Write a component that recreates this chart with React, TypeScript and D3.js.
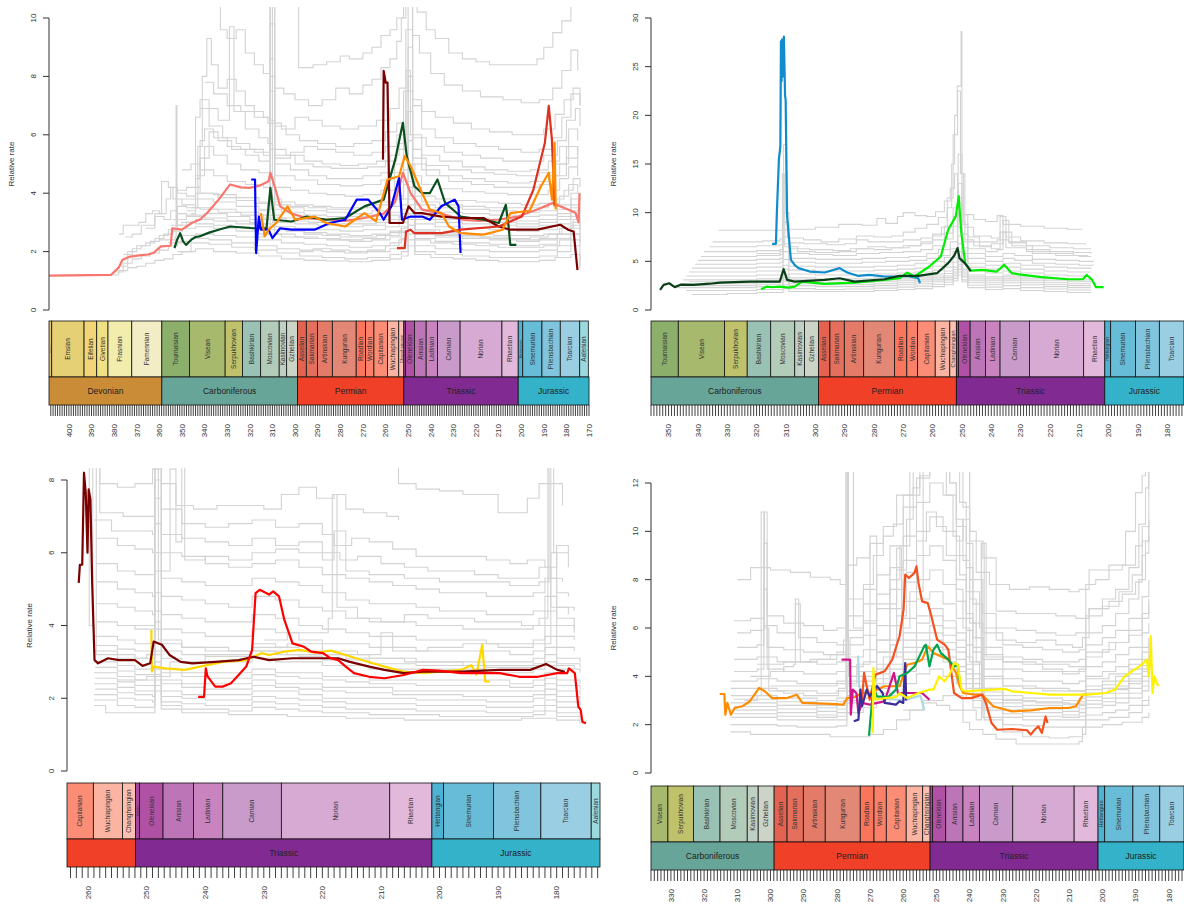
import * as d3 from 'd3';

// ---- geologic timescale (ages in Ma) ----
const STAGE_NAMES = ['Pragian', 'Emsian', 'Eifelian', 'Givetian', 'Frasnian', 'Famennian', 'Tournaisian', 'Visean', 'Serpukhovian', 'Bashkirian', 'Moscovian', 'Kasimovian', 'Gzhelian', 'Asselian', 'Sakmarian', 'Artinskian', 'Kungurian', 'Roadian', 'Wordian', 'Capitanian', 'Wuchiapingian', 'Changhsingian', 'Induan', 'Olenekian', 'Anisian', 'Ladinian', 'Carnian', 'Norian', 'Rhaetian', 'Hettangian', 'Sinemurian', 'Pliensbachian', 'Toarcian', 'Aalenian'];
const STAGE_BASES = [410.8, 407.6, 393.3, 387.7, 382.7, 372.2, 358.9, 346.7, 330.9, 323.2, 315.2, 307.0, 303.7, 298.9, 295.0, 290.1, 283.5, 272.95, 268.8, 265.1, 259.1, 254.14, 251.902, 251.2, 247.2, 242.0, 237.0, 227.0, 208.5, 201.3, 199.3, 190.8, 182.7, 174.1];
const STAGE_TOPS = [...STAGE_BASES.slice(1), 170.3];
const STAGE_COLORS = ['#E5C468', '#E5D075', '#F1D576', '#F1E185', '#F2EDAD', '#F2EDC5', '#8CB06C', '#A6B96C', '#BFC26B', '#99C2B5', '#B3CBB9', '#BFD0C5', '#CCD4C7', '#E36350', '#E36F5C', '#E37B68', '#E38776', '#FB745C', '#FB8069', '#FB8D76', '#FCB4A2', '#FCC0B2', '#A4469F', '#B051A5', '#BC75B7', '#C983BF', '#C99BCB', '#D6AAD3', '#E3B9DB', '#4EB3D3', '#67BCD8', '#80C5DD', '#99CEE3', '#9AD9DD'];
const PERIOD_NAMES = ['Devonian', 'Carboniferous', 'Permian', 'Triassic', 'Jurassic'];
const PERIOD_BASES = [419.2, 358.9, 298.9, 251.902, 201.3];
const PERIOD_TOPS = [358.9, 298.9, 251.902, 201.3, 145.0];
const PERIOD_COLORS = ['#CB8C37', '#67A599', '#F04028', '#812B92', '#34B2C9'];

// ---- panel A (Devonian - Jurassic) : [age, rate, age, rate, ...] ----
const A_GREY = [
  [381, 1.2, 378, 1.35, 374, 1.45, 370, 1.5, 366, 1.6, 362, 1.7, 358, 1.75, 354, 1.9, 350, 2.0, 344, 2.1, 336, 2.0, 326, 1.95, 316, 1.85, 306, 1.75, 296, 1.7, 286, 1.68, 276, 1.65, 266, 1.7, 258, 1.75, 253, 1.85, 250, 2.2, 247, 1.9, 240, 1.8, 230, 1.75, 220, 1.7, 210, 1.65, 200, 1.65, 192, 1.7, 185, 1.8, 178, 1.9, 174, 1.4],
  [379, 1.3, 376, 1.6, 372, 1.75, 368, 1.85, 364, 1.95, 360, 2.05, 356, 2.2, 352, 2.35, 346, 2.45, 338, 2.4, 328, 2.3, 318, 2.2, 308, 2.1, 298, 2.05, 288, 2.0, 278, 1.95, 268, 2.0, 258, 2.1, 253, 2.2, 250, 2.6, 247, 2.2, 238, 2.1, 226, 2.05, 214, 2.0, 202, 2.0, 192, 2.05, 184, 2.2, 178, 2.4, 174, 2.2],
  [377, 1.5, 374, 2.0, 370, 2.2, 366, 2.3, 362, 2.45, 358, 2.6, 354, 2.7, 350, 2.8, 344, 2.85, 336, 2.8, 326, 2.7, 316, 2.6, 306, 2.5, 296, 2.45, 286, 2.4, 276, 2.35, 266, 2.4, 258, 2.5, 253, 2.65, 250, 3.1, 247, 2.6, 238, 2.5, 226, 2.45, 214, 2.4, 202, 2.35, 192, 2.4, 184, 2.6, 178, 2.8, 174, 2.6],
  [375, 2.5, 372, 2.6, 368, 2.9, 365, 2.9, 362, 3.2, 358, 3.1, 355, 3.4, 352, 3.3, 348, 3.2, 340, 3.15, 330, 3.05, 320, 2.95, 310, 2.85, 300, 2.8, 290, 2.75, 280, 2.7, 270, 2.75, 260, 2.85, 254, 3.0, 250, 3.6, 247, 2.95, 238, 2.85, 226, 2.8, 214, 2.75, 202, 2.7, 192, 2.75, 184, 2.95, 178, 3.2, 174, 3.0],
  [366, 2.8, 362, 3.3, 359, 4.4, 356, 4.2, 354, 3.8, 350, 3.6, 344, 3.5, 336, 3.45, 326, 3.35, 316, 3.25, 306, 3.15, 296, 3.1, 286, 3.05, 276, 3.05, 266, 3.1, 258, 3.25, 253, 3.45, 250, 4.2, 247, 3.3, 238, 3.2, 226, 3.15, 214, 3.1, 202, 3.05, 192, 3.1, 184, 3.3, 178, 3.6, 174, 3.4],
  [360, 2.4, 353, 2.5, 352.6, 7.0, 352.2, 2.9, 348, 3.0, 344, 3.1, 336, 3.05, 326, 2.95, 316, 2.85, 306, 2.75, 296, 2.65, 286, 2.6, 276, 2.55, 266, 2.6, 258, 2.7, 253, 2.85, 250, 3.3, 247, 2.75, 236, 2.65, 224, 2.6, 212, 2.55, 200, 2.55, 190, 2.6, 183, 2.8, 177, 3.0, 174, 2.8],
  [346, 3.5, 343, 5.6, 341, 8.0, 339, 9.3, 337, 8.4, 334, 7.6, 330, 7.9, 326, 7.5, 322, 7.0, 318, 6.8, 314, 6.6, 311, 10.5, 309, 6.3, 304, 6.0, 298, 5.8, 290, 5.7, 282, 5.6, 274, 5.7, 266, 5.8, 260, 6.1, 255, 6.4, 252, 7.5, 250, 10.5, 248, 7.0, 244, 6.2, 238, 5.9, 230, 5.7, 220, 5.6, 210, 5.5, 200, 5.4, 192, 5.5, 186, 5.9, 182, 6.6, 178, 7.4, 174, 7.0],
  [348, 3.4, 344, 6.6, 342, 7.2, 338, 6.9, 334, 6.5, 329, 9.7, 327, 6.8, 322, 6.2, 316, 5.9, 312, 5.7, 310, 5.5, 304, 5.3, 296, 5.1, 288, 5.0, 280, 4.95, 272, 5.0, 264, 5.1, 258, 5.3, 254, 5.7, 251, 8.2, 249, 6.0, 244, 5.3, 236, 5.1, 226, 4.9, 216, 4.8, 206, 4.75, 196, 4.8, 188, 5.1, 183, 5.6, 179, 6.2, 175, 5.8],
  [345, 4.2, 342, 5.2, 338, 6.1, 334, 5.8, 328, 5.5, 322, 5.3, 316, 5.1, 311, 9.8, 309, 5.0, 302, 4.8, 294, 4.6, 286, 4.5, 278, 4.5, 270, 4.6, 262, 4.7, 256, 5.0, 252, 6.0, 250, 9.0, 248, 5.5, 244, 4.8, 236, 4.6, 226, 4.5, 216, 4.4, 206, 4.35, 196, 4.4, 188, 4.6, 183, 5.0, 179, 5.6, 175, 5.2],
  [334, 10.5, 333, 9.6, 330, 9.3, 326, 9.6, 322, 8.8, 318, 8.4, 314, 8.1, 311, 10.5, 309, 7.6, 305, 7.4, 300, 7.2, 294, 7.0, 288, 7.2, 282, 7.6, 276, 7.4, 270, 7.7, 266, 7.9, 262, 8.3, 258, 8.6, 255, 9.2, 253, 10.0, 251, 10.5, 248, 9.4, 245, 8.8, 240, 8.1, 234, 7.7, 226, 7.5, 218, 7.3, 208, 7.2, 200, 7.1, 192, 7.2, 186, 7.6, 182, 8.2, 178, 8.9, 175, 8.2],
  [298.6, 10.5, 298.4, 8.3, 292, 8.4, 286, 8.5, 280, 8.7, 276, 8.6, 270, 8.8, 266, 9.0, 262, 9.4, 258, 9.6, 255, 10.0, 252, 10.5, 246, 10.2, 242, 9.6, 238, 9.3, 232, 8.8, 226, 8.6, 220, 8.5, 214, 8.4, 206, 8.4, 198, 8.4, 193, 8.6, 190, 9.0, 186, 9.5, 182, 9.9, 178, 10.5],
  [340, 7.8, 336, 7.4, 330, 7.0, 324, 6.8, 318, 6.6, 312, 6.4, 306, 6.2, 300, 6.6, 294, 6.5, 288, 6.3, 280, 6.2, 272, 6.3, 264, 6.5, 258, 6.9, 254, 7.6, 251, 9.6, 248, 7.2, 244, 6.8, 238, 6.6, 230, 6.4, 222, 6.2, 214, 6.1, 204, 6.0, 196, 6.0, 190, 6.2, 185, 6.7, 181, 7.2, 177, 7.6, 174, 7.0],
  [342, 6.9, 338, 6.3, 332, 5.9, 326, 5.7, 320, 5.5, 314, 5.3, 311, 8.6, 309, 5.2, 302, 5.4, 296, 5.6, 290, 5.5, 282, 5.4, 274, 5.3, 266, 5.4, 260, 5.6, 255, 6.0, 251, 7.5, 248, 5.9, 242, 5.6, 234, 5.4, 226, 5.3, 218, 5.2, 208, 5.1, 198, 5.1, 190, 5.3, 184, 5.8, 180, 6.5, 176, 6.9, 174, 6.3],
  [350, 4.8, 346, 5.0, 342, 4.8, 336, 4.6, 330, 4.4, 322, 4.3, 314, 4.2, 311, 6.5, 309, 4.2, 302, 4.1, 294, 4.0, 286, 3.95, 278, 3.9, 270, 3.95, 262, 4.1, 256, 4.4, 252, 5.2, 250, 6.8, 248, 4.6, 244, 4.3, 236, 4.15, 226, 4.05, 216, 4.0, 206, 3.95, 196, 3.95, 188, 4.1, 183, 4.5, 179, 4.9, 175, 4.6],
  [352, 4.1, 348, 4.2, 342, 4.0, 334, 3.85, 326, 3.75, 318, 3.65, 311, 5.5, 309, 3.6, 302, 3.55, 294, 3.5, 286, 3.45, 278, 3.45, 270, 3.5, 262, 3.6, 256, 3.8, 252, 4.3, 250, 5.8, 248, 3.9, 244, 3.7, 236, 3.6, 226, 3.55, 216, 3.5, 206, 3.5, 196, 3.5, 188, 3.65, 183, 3.9, 179, 4.3, 175, 4.0],
  [352, 2.0, 346, 2.3, 338, 2.25, 328, 2.15, 318, 2.05, 308, 1.95, 298, 1.85, 288, 1.8, 278, 1.75, 268, 1.8, 258, 1.9, 253, 2.0, 250, 2.4, 247, 2.0, 238, 1.9, 226, 1.85, 214, 1.8, 202, 1.8, 192, 1.85, 184, 2.0, 178, 2.2, 174, 1.5],
  [320, 3.0, 316, 3.4, 312, 3.6, 311, 10.5, 310, 3.8, 306, 3.7, 300, 3.6, 292, 3.55, 284, 3.5, 276, 3.5, 268, 3.6, 262, 3.7, 256, 3.9, 252, 4.8, 250, 6.0, 248, 4.2, 244, 3.9, 238, 3.8, 230, 3.75, 220, 3.7, 210, 3.65, 200, 3.6, 192, 3.65, 186, 3.8, 181, 4.1, 177, 4.5, 174, 4.2],
  [355, 2.9, 350, 3.0, 344, 2.95, 336, 2.9, 328, 2.85, 320, 2.8, 312, 2.75, 304, 2.7, 296, 2.6, 288, 2.55, 280, 2.5, 272, 2.5, 264, 2.55, 258, 2.65, 253, 2.8, 250, 3.2, 247, 2.7, 238, 2.6, 228, 2.55, 218, 2.5, 206, 2.45, 196, 2.5, 188, 2.6, 182, 2.8, 177, 3.1, 174, 2.9],
  [298, 2.0, 292, 2.1, 284, 2.05, 276, 2.0, 268, 2.05, 260, 2.2, 254, 2.4, 250, 2.9, 247, 2.4, 240, 2.3, 230, 2.25, 220, 2.2, 210, 2.15, 200, 2.15, 190, 2.2, 183, 2.4, 178, 2.6, 174, 2.4],
  [378, 2.6, 376, 2.9, 371, 2.9, 369, 3.0, 366, 3.3, 363, 3.4, 360, 3.3, 357, 3.8, 355, 4.2, 352, 4.0, 348, 3.9, 344, 3.8, 336, 3.7, 326, 3.55, 316, 3.45, 306, 3.35, 296, 3.25, 286, 3.2, 276, 3.2, 266, 3.25, 258, 3.35, 253, 3.6, 250, 4.4, 247, 3.45, 238, 3.35, 226, 3.3, 214, 3.25, 202, 3.2, 192, 3.25, 184, 3.45, 178, 3.8, 174, 3.6],
  [356, 2.3, 350, 2.55, 344, 2.6, 336, 2.55, 326, 2.5, 316, 2.4, 306, 2.3, 296, 2.25, 286, 2.2, 276, 2.15, 266, 2.2, 258, 2.3, 253, 2.45, 250, 2.9, 247, 2.45, 238, 2.35, 226, 2.3, 214, 2.25, 202, 2.2, 192, 2.25, 184, 2.45, 178, 2.6, 174, 2.3],
  [354, 3.1, 348, 3.25, 340, 3.3, 330, 3.2, 320, 3.1, 310, 3.0, 300, 2.95, 290, 2.9, 280, 2.85, 270, 2.9, 260, 3.0, 254, 3.2, 250, 3.9, 247, 3.1, 238, 3.0, 226, 2.95, 214, 2.9, 202, 2.85, 192, 2.9, 184, 3.1, 178, 3.4, 174, 3.2],
  [350, 3.8, 344, 4.0, 336, 3.95, 326, 3.85, 316, 3.7, 306, 3.5, 296, 3.4, 286, 3.35, 276, 3.3, 266, 3.4, 258, 3.55, 253, 3.8, 250, 5.0, 247, 3.6, 238, 3.5, 226, 3.45, 214, 3.4, 202, 3.35, 192, 3.4, 184, 3.6, 178, 4.0, 174, 3.8],
  [318, 2.5, 314, 2.6, 311, 4.5, 309, 2.6, 300, 2.5, 290, 2.45, 280, 2.4, 270, 2.45, 260, 2.55, 254, 2.7, 250, 3.3, 247, 2.6, 238, 2.55, 226, 2.5, 214, 2.45, 202, 2.4, 192, 2.45, 184, 2.6, 178, 2.9, 174, 2.7],
  [344, 4.6, 340, 5.6, 336, 5.3, 330, 5.0, 324, 4.8, 316, 4.7, 311, 7.5, 309, 4.6, 300, 4.45, 290, 4.3, 280, 4.25, 270, 4.3, 262, 4.45, 256, 4.7, 252, 5.5, 250, 8.0, 248, 5.0, 242, 4.6, 232, 4.4, 222, 4.3, 212, 4.2, 202, 4.2, 192, 4.3, 185, 4.6, 180, 5.2, 175, 4.9],
  [376, 1.9, 372, 2.1, 368, 2.2, 364, 2.35, 360, 2.55, 356, 2.75, 352, 3.55, 348, 3.5, 342, 3.45, 334, 3.35, 324, 3.25, 314, 3.15, 304, 3.05, 294, 3.0, 284, 2.95, 274, 2.95, 264, 3.0, 258, 3.1, 253, 3.3, 250, 3.8, 247, 3.2, 238, 3.1, 226, 3.05, 214, 3.0, 202, 2.95, 192, 3.0, 184, 3.2, 178, 3.5, 174, 3.3],
  [346, 3.3, 344, 4.5, 342, 5.8, 340, 6.2, 336, 5.9, 330, 5.6, 324, 5.5, 318, 5.4, 311, 8.0, 309, 5.3, 300, 5.0, 292, 4.9, 284, 4.85, 276, 4.85, 268, 4.9, 260, 5.1, 255, 5.5, 251, 6.8, 248, 5.2, 242, 4.95, 232, 4.8, 222, 4.7, 212, 4.65, 202, 4.6, 192, 4.7, 185, 5.0, 180, 5.6, 175, 5.3],
];
const A_SALMON = [409, 1.18, 381.4, 1.2, 378, 1.45, 376.3, 1.72, 372.9, 1.83, 368, 1.88, 365, 1.9, 362.7, 1.95, 359.3, 2.18, 355, 2.2, 354.3, 2.8, 350, 2.75, 345.7, 2.98, 342, 3.1, 338.9, 3.32, 333.8, 3.78, 328.7, 4.3, 324, 4.2, 320.2, 4.18, 316, 4.25, 311.7, 4.41, 310.9, 4.7, 308.5, 4.1, 306.6, 3.55, 301.6, 3.3, 294.8, 3.15, 286.3, 3.1, 277.8, 3.05, 269.3, 3.15, 260.8, 3.3, 255.7, 3.7, 252.3, 4.7, 248.9, 4.0, 243.8, 3.44, 235.3, 3.3, 226.8, 3.1, 218.4, 3.05, 209.9, 3.1, 201.4, 3.2, 192.9, 3.44, 186.1, 3.66, 179.3, 3.44, 175.9, 3.32, 174.6, 3.0, 174.2, 4.0];
const A_DKGREEN = [353.3, 2.12, 352.2, 2.4, 350.8, 2.63, 349.5, 2.35, 348.2, 2.23, 346, 2.4, 344, 2.5, 342.3, 2.52, 338, 2.65, 333.8, 2.75, 328.7, 2.86, 318.5, 2.8, 312.6, 2.8, 310.9, 4.18, 309.2, 3.09, 301.6, 3.03, 294.8, 3.2, 286.3, 3.09, 277.8, 3.15, 269.3, 3.55, 260.8, 3.78, 255.7, 5.15, 252.3, 6.41, 250.6, 5.27, 247.2, 4.24, 243.8, 4.0, 240.4, 4.0, 237.0, 4.47, 233.6, 3.66, 230.2, 3.44, 226.8, 3.2, 216.7, 3.09, 209.9, 2.98, 206.8, 3.6, 205.6, 2.9, 204.8, 2.23, 202.2, 2.23];
const A_BLUE = [319.4, 4.47, 317.7, 4.47, 317.2, 1.95, 316.0, 3.2, 315.1, 2.75, 311.7, 2.75, 310.0, 2.46, 306.6, 2.8, 301.6, 2.75, 291.4, 2.75, 284.6, 2.98, 277.8, 3.09, 272.7, 3.78, 267.6, 3.78, 262.5, 3.32, 260.8, 3.09, 257.4, 3.55, 254.0, 4.52, 252.7, 3.09, 248.9, 3.2, 243.8, 3.2, 240.4, 3.09, 235.3, 3.55, 229.4, 3.78, 227.7, 3.55, 226.8, 1.95];
const A_MAROON = [261.1, 5.15, 260.8, 8.19, 259.9, 7.79, 259.1, 7.79, 258.2, 2.98, 252.3, 2.98, 249.8, 3.55, 247.2, 3.32, 243.8, 3.32, 235.3, 3.2, 226.8, 3.15, 216.7, 3.15, 209.9, 2.86, 204.8, 2.75, 192.9, 2.75, 182.7, 2.92, 179.3, 2.75, 176.8, 2.69, 175.1, 1.37];
const A_RED = [254.9, 2.12, 251.5, 2.12, 250.9, 2.69, 248.9, 2.75, 247.2, 2.63, 235.3, 2.63, 226.8, 2.75, 209.9, 2.86, 199.7, 3.2, 194.6, 4.12, 189.5, 5.73, 187.8, 6.99, 186.4, 5.84, 185.2, 3.55];
const A_ORANGE = [315.1, 3.32, 313.4, 2.52, 311.7, 2.75, 308.3, 2.98, 303.3, 3.55, 299.9, 3.09, 291.4, 3.2, 286.3, 2.98, 277.8, 2.86, 269.3, 3.32, 264.2, 3.04, 259.1, 4.47, 254.0, 4.58, 251.5, 5.27, 248.9, 4.93, 243.8, 4.0, 240.4, 3.44, 235.3, 3.32, 231.9, 2.86, 226.8, 2.63, 216.7, 2.58, 208.2, 2.75, 204.8, 3.32, 196.3, 3.4, 191.2, 4.24, 187.8, 4.7, 186.4, 3.78, 185.2, 5.73, 184.7, 3.44];

// ---- panel B (Carboniferous - Jurassic) ----
const B_GREY = [
  [333, 8.2, 320, 8.2, 310, 8.3, 300, 8.5, 292, 8.8, 284, 8.7, 279, 9.4, 276, 8.9, 272, 9.6, 270, 10.0, 266, 9.7, 262, 9.6, 259, 10.1, 256, 11.2, 254, 12.5, 252.5, 14.0, 251.5, 11.0, 250, 9.8, 246, 9.3, 242, 9.1, 238, 9.7, 236, 8.8, 230, 8.6, 222, 8.4, 214, 8.3, 209, 8.3],
  [335, 7.0, 326, 7.0, 318, 7.1, 312, 7.3, 311, 10.0, 309.5, 7.4, 304, 7.2, 298, 7.0, 292, 7.3, 286, 7.6, 280, 7.5, 274, 7.6, 270, 8.0, 266, 8.4, 262, 8.8, 258, 9.5, 255, 11.5, 253, 18.0, 251.5, 22.5, 250.5, 14.0, 249, 8.5, 246, 7.6, 240, 7.4, 237, 9.6, 235, 7.5, 230, 7.1, 222, 6.9, 214, 6.8, 208, 6.7],
  [336, 6.5, 328, 6.5, 320, 6.6, 312, 6.7, 310.8, 17.0, 310, 10.0, 309, 6.9, 304, 6.8, 296, 6.7, 290, 6.8, 286, 7.2, 282, 7.0, 276, 7.0, 270, 7.2, 264, 7.4, 260, 7.8, 256, 8.6, 253, 10.5, 251.3, 16.0, 250, 9.8, 248, 7.5, 244, 7.0, 238, 7.2, 234, 7.0, 228, 6.6, 220, 6.4, 212, 6.3, 206, 6.3],
  [338, 6.0, 330, 6.0, 320, 6.1, 312, 6.2, 311, 9.0, 309, 6.3, 302, 6.2, 294, 6.1, 288, 6.3, 282, 6.5, 276, 6.4, 270, 6.6, 264, 6.8, 260, 7.2, 256, 7.9, 253, 9.6, 251.3, 13.0, 250, 8.8, 248, 7.0, 244, 6.5, 240, 6.8, 236, 9.2, 234, 6.9, 228, 6.2, 220, 6.0, 212, 5.9, 206, 5.8],
  [339, 5.5, 330, 5.5, 320, 5.6, 312, 5.7, 311, 7.5, 309, 5.8, 302, 5.7, 294, 5.6, 286, 5.8, 278, 5.9, 270, 6.0, 264, 6.2, 260, 6.6, 256, 7.3, 253, 8.6, 251.3, 11.5, 250, 7.8, 248, 6.3, 242, 6.0, 238, 6.2, 236, 8.0, 233, 6.6, 226, 5.8, 218, 5.6, 210, 5.5, 206, 5.5],
  [340, 5.1, 330, 5.1, 320, 5.2, 312, 5.3, 311, 6.8, 309, 5.3, 300, 5.2, 292, 5.2, 284, 5.3, 276, 5.4, 268, 5.5, 262, 5.8, 258, 6.2, 254, 7.0, 251.5, 10.0, 250, 7.0, 248, 5.8, 242, 5.5, 236, 5.8, 232, 5.6, 226, 5.2, 218, 5.1, 210, 5.0, 205, 5.0],
  [341, 4.7, 330, 4.7, 320, 4.8, 312, 4.9, 311, 6.0, 309, 4.9, 300, 4.8, 292, 4.8, 284, 4.9, 276, 5.0, 268, 5.1, 262, 5.3, 258, 5.6, 254, 6.3, 251.5, 8.5, 250, 6.4, 248, 5.3, 242, 5.0, 236, 5.3, 232, 5.1, 226, 4.8, 218, 4.7, 210, 4.6, 205, 4.6],
  [342, 4.3, 330, 4.3, 320, 4.4, 311, 5.2, 309, 4.5, 300, 4.4, 290, 4.4, 280, 4.5, 272, 4.6, 266, 4.8, 260, 5.0, 256, 5.4, 253, 6.0, 251.4, 7.6, 250, 5.8, 248, 4.8, 242, 4.6, 236, 4.8, 230, 4.6, 222, 4.4, 214, 4.3, 206, 4.2],
  [343, 3.9, 330, 3.9, 320, 4.0, 311, 4.6, 309, 4.1, 300, 4.0, 290, 4.0, 280, 4.1, 272, 4.2, 266, 4.3, 260, 4.5, 256, 4.9, 253, 5.4, 251.4, 6.8, 250, 5.2, 248, 4.4, 242, 4.2, 236, 4.4, 230, 4.2, 222, 4.0, 214, 3.9, 206, 3.9],
  [344, 3.5, 330, 3.5, 320, 3.6, 311, 4.2, 309, 3.7, 300, 3.6, 290, 3.6, 280, 3.7, 272, 3.8, 266, 3.9, 260, 4.1, 256, 4.4, 253, 4.9, 251.4, 6.0, 250, 4.7, 248, 4.0, 242, 3.8, 236, 4.0, 230, 3.8, 222, 3.6, 214, 3.5, 206, 3.5],
  [345, 3.1, 330, 3.1, 320, 3.2, 311, 3.7, 309, 3.3, 300, 3.2, 290, 3.2, 280, 3.3, 272, 3.4, 266, 3.5, 260, 3.7, 256, 4.0, 253, 4.4, 251.4, 5.3, 250, 4.2, 248, 3.6, 242, 3.4, 236, 3.6, 230, 3.4, 222, 3.2, 214, 3.1, 206, 3.1],
  [346, 2.7, 330, 2.7, 320, 2.8, 311, 3.3, 309, 2.9, 300, 2.8, 290, 2.8, 280, 2.9, 272, 3.0, 266, 3.1, 260, 3.3, 256, 3.5, 253, 3.9, 251.4, 4.7, 250, 3.8, 248, 3.2, 242, 3.0, 236, 3.2, 230, 3.0, 222, 2.8, 214, 2.7, 206, 2.7],
  [347, 2.3, 330, 2.3, 320, 2.4, 311, 2.9, 309, 2.5, 300, 2.4, 290, 2.4, 280, 2.5, 272, 2.6, 266, 2.7, 260, 2.9, 256, 3.1, 253, 3.5, 251.4, 4.2, 250, 3.4, 248, 2.8, 242, 2.6, 236, 2.8, 230, 2.6, 222, 2.4, 214, 2.3, 206, 2.3],
  [342, 1.6, 330, 1.7, 320, 1.8, 311, 2.2, 309, 1.9, 300, 1.9, 290, 1.9, 280, 2.0, 272, 2.1, 266, 2.2, 260, 2.4, 256, 2.6, 253, 3.0, 251.4, 3.6, 250, 2.9, 248, 2.3, 242, 2.1, 236, 2.2, 230, 2.0, 222, 1.9, 214, 1.8, 206, 1.8],
  [320, 5.8, 312, 6.0, 311.2, 14.0, 310.4, 6.5, 306, 6.0, 300, 5.9, 292, 6.0, 286, 6.3, 280, 6.2, 274, 6.4, 268, 6.6, 264, 7.0, 260, 7.6, 257, 8.5, 255, 10.5, 253.5, 15.0, 252.5, 20.0, 251.6, 23.0, 250.3, 28.6, 250.0, 14.0, 249.5, 9.0, 249, 7.2, 246, 6.6, 240, 6.3, 237, 8.0, 235, 6.4, 228, 6.0, 220, 5.8, 212, 5.6, 207, 5.6],
  [344, 2.5, 330, 2.5, 320, 2.6, 311, 3.1, 309, 2.7, 300, 2.6, 290, 2.6, 280, 2.7, 272, 2.8, 266, 2.9, 260, 3.1, 256, 3.3, 253, 3.7, 251.4, 4.5, 250, 3.6, 248, 3.0, 242, 2.8, 236, 3.0, 230, 2.8, 222, 2.6, 214, 2.5, 206, 2.5],
  [343, 2.9, 330, 2.9, 320, 3.0, 311, 3.5, 309, 3.1, 300, 3.0, 290, 3.0, 280, 3.1, 272, 3.2, 266, 3.3, 260, 3.5, 256, 3.75, 253, 4.15, 251.4, 5.0, 250, 4.0, 248, 3.4, 242, 3.2, 236, 3.4, 230, 3.2, 222, 3.0, 214, 2.9, 206, 2.9],
  [344, 2.0, 330, 2.0, 320, 2.1, 311, 2.6, 309, 2.2, 300, 2.1, 290, 2.15, 280, 2.25, 272, 2.35, 266, 2.45, 260, 2.65, 256, 2.85, 253, 3.25, 251.4, 3.9, 250, 3.1, 248, 2.55, 242, 2.35, 236, 2.5, 230, 2.3, 222, 2.15, 214, 2.05, 206, 2.05],
];
const B_BLUE = [314.7, 6.8, 313.4, 6.8, 313.1, 9.97, 312.4, 15.5, 311.9, 16.8, 311.7, 27.6, 311.5, 23.5, 311.3, 27.8, 311.0, 24.0, 310.7, 28.1, 310.3, 22.0, 310.1, 21.6, 309.6, 9.6, 308.3, 5.15, 307, 4.6, 305.7, 4.3, 301.9, 3.95, 296.8, 3.85, 291.7, 4.3, 289.1, 3.85, 285.3, 3.5, 281.5, 3.6, 276.4, 3.44, 271.3, 3.44, 268.7, 3.5, 264.9, 3.26, 264.3, 2.75];
const B_DKGREEN = [352.9, 2.06, 351.7, 2.58, 349.8, 2.75, 347.9, 2.35, 345.9, 2.6, 341.5, 2.58, 336, 2.7, 332.5, 2.82, 322.3, 2.92, 312.1, 2.92, 310.8, 4.19, 309.6, 3.09, 307, 2.92, 296.8, 3.09, 291.7, 3.26, 286.6, 2.92, 276.4, 3.16, 271.3, 3.5, 264.9, 3.5, 258.5, 3.78, 254.7, 4.81, 252.6, 5.6, 251.5, 6.36, 250.8, 5.3, 250.2, 5.15, 249.0, 4.81, 247.0, 4.0];
const B_GREEN = [318.5, 2.13, 316.6, 2.4, 314.7, 2.34, 312.1, 2.4, 309, 2.3, 307, 2.4, 304.5, 2.92, 296.8, 2.68, 286.6, 2.82, 276.4, 3.09, 271.3, 3.26, 268.7, 3.85, 266.2, 3.44, 261.1, 4.47, 257.2, 5.5, 254.7, 8.25, 252.1, 9.62, 251.1, 11.7, 250.2, 7.9, 248.9, 4.81, 247, 4.05, 243.2, 4.12, 238.1, 3.95, 235.6, 4.64, 233, 3.78, 229.2, 3.6, 222.8, 3.37, 213.9, 3.16, 208.8, 3.16, 207.5, 3.6, 205.6, 3.09, 204.3, 2.34, 201.7, 2.34];

// ---- panel C (Capitanian - Aalenian) ----
const C_GREY = [
  [262, 8.5, 258, 7.9, 255, 7.8, 252, 7.9, 249, 8.3, 247.5, 7.9, 245, 7.3, 242, 7.2, 238, 7.3, 234, 7.3, 230, 7.2, 227, 7.6, 224, 7.8, 221, 7.5, 218, 7.6, 216, 7.2, 213, 7.1, 209, 7.0, 207, 6.9],
  [207.5, 8.5, 207, 7.9, 204, 7.75, 200, 7.7, 196, 7.6, 192, 7.6, 190, 7.1, 187, 7.1, 185, 7.5, 183, 7.9, 180, 7.9, 179, 7.3],
  [260, 8.5, 258, 7.1, 254, 7.0, 250, 7.0, 248.6, 8.4, 247.5, 7.2, 244, 6.8, 240, 6.7, 236, 6.8, 232, 6.9, 228, 6.7, 224, 6.8, 220, 6.5, 218, 6.2, 215, 6.4, 212, 6.3, 208, 6.1, 204, 5.9, 200, 5.9, 196, 5.9, 192, 5.8, 188, 5.7, 185, 5.8, 182, 5.6, 180, 6.2, 178, 6.0],
  [259, 6.9, 256, 6.6, 252, 6.6, 249, 6.5, 248.6, 8.0, 247.5, 6.5, 244, 6.4, 240, 6.3, 236, 6.2, 232, 6.4, 228, 6.2, 224, 6.3, 220, 6.0, 217, 5.8, 214, 5.9, 210, 5.7, 206, 5.6, 202, 5.5, 198, 5.5, 194, 5.4, 190, 5.3, 186, 5.3, 183, 5.6, 181, 5.3, 179, 5.2],
  [258.5, 6.4, 255, 6.2, 252, 6.1, 249, 6.0, 248.6, 7.5, 247.5, 6.0, 244, 5.9, 240, 5.7, 236, 5.6, 232, 5.7, 228, 5.8, 224, 5.6, 220, 5.4, 216, 5.3, 212, 5.2, 208, 5.1, 204, 5.0, 200, 4.9, 196, 4.9, 192, 4.8, 188, 4.8, 184, 4.9, 182, 5.3, 180, 4.9, 178, 4.8],
  [258.5, 5.7, 255, 5.5, 252, 5.4, 249, 5.4, 248.6, 6.8, 247.5, 5.3, 244, 5.2, 240, 5.1, 236, 5.1, 232, 5.3, 228, 5.2, 224, 5.1, 220, 4.9, 216, 4.7, 212, 4.6, 208, 4.6, 204, 4.5, 200, 4.4, 196, 4.4, 192, 4.3, 188, 4.3, 184, 4.4, 182, 4.8, 180, 4.5, 177, 4.4],
  [258.5, 5.2, 255, 5.0, 252, 4.9, 249, 4.8, 248.6, 6.0, 247.5, 4.8, 244, 4.7, 240, 4.6, 236, 4.5, 232, 4.8, 228, 4.7, 224, 4.5, 220, 4.4, 216, 4.2, 212, 4.1, 208, 4.1, 204, 4.0, 200, 4.0, 196, 3.9, 192, 3.9, 188, 3.9, 184, 4.0, 182, 4.4, 180, 4.0, 177, 3.9],
  [258.5, 4.6, 255, 4.5, 252, 4.4, 249, 4.3, 248.6, 5.5, 247.5, 4.3, 244, 4.2, 240, 4.1, 236, 4.1, 232, 4.3, 228, 4.2, 224, 4.0, 220, 3.9, 216, 3.8, 212, 3.7, 208, 3.7, 204, 3.6, 200, 3.6, 196, 3.6, 192, 3.5, 188, 3.5, 184, 3.6, 182, 4.0, 180, 3.7, 177, 3.6],
  [258.5, 4.1, 255, 4.0, 252, 3.9, 249, 3.9, 248.6, 4.9, 247.5, 3.9, 244, 3.8, 240, 3.7, 236, 3.7, 232, 3.9, 228, 3.8, 224, 3.6, 220, 3.5, 216, 3.5, 212, 3.4, 208, 3.4, 204, 3.3, 200, 3.3, 196, 3.3, 192, 3.3, 188, 3.2, 184, 3.3, 182, 3.7, 180, 3.4, 177, 3.3],
  [259, 3.7, 255, 3.6, 252, 3.5, 249, 3.5, 248.6, 4.4, 247.5, 3.5, 244, 3.4, 240, 3.3, 236, 3.3, 232, 3.5, 228, 3.4, 224, 3.3, 220, 3.2, 216, 3.2, 212, 3.1, 208, 3.1, 204, 3.0, 200, 3.0, 196, 3.0, 192, 3.0, 188, 3.0, 184, 3.1, 182, 3.4, 180, 3.1, 176, 3.0],
  [259, 3.3, 255, 3.2, 252, 3.1, 249, 3.1, 248.6, 3.9, 247.5, 3.1, 244, 3.0, 240, 3.0, 236, 3.0, 232, 3.1, 228, 3.0, 224, 3.0, 220, 2.9, 216, 2.9, 212, 2.8, 208, 2.8, 204, 2.8, 200, 2.8, 196, 2.8, 192, 2.7, 188, 2.7, 184, 2.8, 182, 3.0, 180, 2.8, 176, 2.7],
  [259, 3.0, 255, 2.9, 252, 2.8, 249, 2.8, 248.6, 3.5, 247.5, 2.8, 244, 2.7, 240, 2.7, 236, 2.7, 232, 2.8, 228, 2.7, 224, 2.7, 220, 2.6, 216, 2.6, 212, 2.5, 208, 2.5, 204, 2.5, 200, 2.5, 196, 2.5, 192, 2.5, 188, 2.4, 184, 2.5, 182, 2.7, 180, 2.5, 176, 2.4],
  [259, 2.7, 255, 2.6, 252, 2.5, 249, 2.5, 248.6, 3.2, 247.5, 2.5, 244, 2.4, 240, 2.4, 236, 2.4, 232, 2.5, 228, 2.4, 224, 2.4, 220, 2.3, 216, 2.3, 212, 2.3, 208, 2.2, 204, 2.2, 200, 2.2, 196, 2.2, 192, 2.2, 188, 2.2, 184, 2.2, 182, 2.4, 180, 2.2, 176, 2.1],
  [259, 2.4, 255, 2.3, 252, 2.2, 249, 2.2, 248.6, 2.8, 247.5, 2.2, 244, 2.1, 240, 2.1, 236, 2.1, 232, 2.2, 228, 2.2, 224, 2.1, 220, 2.0, 216, 2.0, 212, 2.0, 208, 2.0, 204, 1.95, 200, 1.95, 196, 1.95, 192, 1.9, 188, 1.9, 184, 2.0, 182, 2.1, 180, 1.9, 176, 1.8],
  [259, 2.1, 255, 2.0, 252, 1.95, 249, 1.9, 248.6, 2.5, 247.5, 1.9, 244, 1.85, 240, 1.8, 236, 1.8, 232, 1.9, 228, 1.85, 224, 1.8, 220, 1.75, 216, 1.7, 212, 1.7, 208, 1.7, 204, 1.65, 200, 1.65, 196, 1.65, 192, 1.6, 188, 1.6, 184, 1.65, 182, 1.8, 180, 1.6, 176, 1.5],
  [259, 1.8, 257, 1.6, 254, 1.6, 250, 1.6, 248.6, 2.2, 247.5, 1.7, 244, 1.6, 236, 1.55, 226, 1.5, 216, 1.45, 206, 1.4, 196, 1.4, 186, 1.45, 180, 1.4, 176, 1.3],
  [252, 4.0, 248.6, 8.5, 247.5, 5.5, 246, 8.3, 245, 6.3, 244, 8.4, 243.5, 5.8, 240, 5.9, 236, 5.8, 232, 6.0, 228, 6.1, 224, 6.0, 220, 5.8, 218, 6.6, 216, 5.5, 212, 5.4, 206, 5.3, 200, 5.2, 194, 5.2, 188, 5.1, 183, 5.2, 181.3, 8.5, 180.5, 6.0, 178, 5.6],
  [230, 3.6, 226, 3.8, 222, 3.8, 219, 4.2, 218.3, 7.6, 217.5, 4.5, 214, 4.2, 210, 4.1, 206, 4.3, 202, 4.2, 198, 4.2, 194, 4.1, 190, 4.1, 186, 4.0, 183, 4.2, 181.5, 8.5, 181, 4.5, 178, 4.3],
  [255, 2.5, 250, 2.6, 246, 3.0, 240, 3.2, 232, 3.4, 226, 3.5, 220, 3.3, 214, 3.2, 210, 3.8, 208, 3.3, 202, 3.4, 196, 3.5, 190, 3.4, 184, 3.5, 181, 6.0, 180, 4.2, 177, 3.8],
  [260.5, 8.5, 259.8, 4.0, 259.2, 8.5, 258.6, 3.2, 255, 3.1, 250, 3.2, 248.6, 8.5, 248, 3.6, 244, 3.4, 236, 3.3, 226, 3.2, 216, 3.1, 206, 3.0, 196, 2.9, 186, 2.9, 180, 2.9, 177, 2.8],
  [258.8, 2.85, 255, 2.75, 252, 2.65, 249, 2.65, 248.6, 3.3, 247.5, 2.7, 244, 2.6, 240, 2.55, 236, 2.55, 232, 2.65, 228, 2.6, 224, 2.55, 220, 2.5, 216, 2.45, 212, 2.4, 208, 2.4, 204, 2.35, 200, 2.35, 196, 2.35, 192, 2.35, 188, 2.3, 184, 2.35, 182, 2.55, 180, 2.35, 176, 2.25],
  [258.8, 2.55, 255, 2.45, 252, 2.35, 249, 2.35, 248.6, 3.0, 247.5, 2.4, 244, 2.3, 240, 2.25, 236, 2.25, 232, 2.35, 228, 2.3, 224, 2.25, 220, 2.2, 216, 2.15, 212, 2.15, 208, 2.1, 204, 2.1, 200, 2.1, 196, 2.05, 192, 2.05, 188, 2.05, 184, 2.1, 182, 2.25, 180, 2.05, 176, 1.95],
  [258.8, 2.25, 255, 2.15, 252, 2.1, 249, 2.05, 248.6, 2.65, 247.5, 2.05, 244, 2.0, 240, 1.95, 236, 1.95, 232, 2.05, 228, 2.0, 224, 1.95, 220, 1.9, 216, 1.85, 212, 1.85, 208, 1.85, 204, 1.8, 200, 1.8, 196, 1.8, 192, 1.75, 188, 1.75, 184, 1.8, 182, 1.95, 180, 1.75, 176, 1.65],
  [258.8, 3.45, 255, 3.35, 252, 3.3, 249, 3.3, 248.6, 4.1, 247.5, 3.3, 244, 3.2, 240, 3.15, 236, 3.15, 232, 3.3, 228, 3.2, 224, 3.15, 220, 3.05, 216, 3.05, 212, 2.95, 208, 2.95, 204, 2.9, 200, 2.9, 196, 2.9, 192, 2.85, 188, 2.85, 184, 2.95, 182, 3.2, 180, 2.95, 176, 2.85],
  [259, 1.95, 255, 1.8, 252, 1.75, 249, 1.75, 248.6, 2.35, 247.5, 1.8, 244, 1.7, 240, 1.7, 236, 1.65, 232, 1.75, 228, 1.7, 224, 1.65, 220, 1.6, 216, 1.6, 212, 1.55, 208, 1.55, 204, 1.55, 200, 1.5, 196, 1.5, 192, 1.5, 188, 1.5, 184, 1.55, 182, 1.65, 180, 1.5, 176, 1.4],
];
const C_MAROON = [261.6, 5.17, 261.4, 5.67, 261.0, 5.67, 260.7, 8.2, 260.4, 7.65, 260.1, 6.0, 259.9, 7.74, 259.6, 7.47, 259.3, 5.17, 258.9, 3.05, 258.3, 2.96, 256.6, 3.1, 254.7, 3.05, 252.0, 3.05, 250.7, 2.89, 249.4, 2.96, 248.8, 3.56, 247.4, 3.47, 246.1, 3.19, 244.2, 3.0, 242.2, 2.96, 238.3, 3.0, 234.3, 3.05, 231.7, 3.14, 229.1, 3.05, 225.1, 3.1, 221.2, 3.1, 217.3, 3.1, 215.3, 3.0, 212.0, 2.87, 209.4, 2.78, 206.1, 2.69, 202.8, 2.73, 196.3, 2.73, 189.7, 2.78, 184.5, 2.78, 181.8, 2.94, 179.9, 2.78, 178.6, 2.73];
const C_RED = [241.2, 2.04, 240.2, 2.04, 239.9, 2.82, 239.6, 2.6, 238.3, 2.32, 237.0, 2.32, 235.6, 2.41, 234.3, 2.64, 233.0, 2.87, 232.0, 3.33, 231.4, 4.89, 230.7, 4.98, 229.1, 4.85, 228.4, 4.94, 227.4, 4.8, 226.5, 4.16, 225.1, 3.51, 223.2, 3.42, 221.9, 3.28, 219.9, 3.24, 218.6, 3.1, 217.3, 3.05, 216.0, 2.87, 214.6, 2.69, 212.0, 2.59, 209.4, 2.55, 206.1, 2.64, 202.8, 2.78, 200.2, 2.76, 196.3, 2.69, 189.7, 2.69, 186.4, 2.59, 183.2, 2.59, 179.9, 2.69, 178.2, 2.69, 177.9, 2.82, 176.9, 2.69, 176.3, 1.77, 175.9, 1.68, 175.6, 1.35, 175.0, 1.31];
const C_YELLOW = [249.2, 3.88, 249.1, 2.73, 248.8, 2.87, 246.8, 2.82, 243.5, 2.78, 240.9, 2.87, 237.0, 3.0, 233.0, 3.05, 230.4, 3.24, 229.1, 3.19, 226.5, 3.28, 223.8, 3.33, 221.2, 3.25, 218.6, 3.31, 216.0, 3.19, 213.3, 3.05, 209.4, 2.87, 206.1, 2.73, 202.8, 2.69, 199.6, 2.73, 196.3, 2.78, 194.6, 2.91, 193.7, 2.65, 192.7, 3.47, 192.2, 2.46, 191.4, 2.46];

// ---- panel D (Visean - Toarcian) ----
const D_GREY = [
  [310, 8.0, 306, 8.5, 300, 8.4, 294, 8.3, 288, 8.1, 282, 8.0, 279, 7.8, 277, 13, 262, 13, 250, 13, 243, 13, 240, 10.0, 238, 8.3, 234, 7.8, 228, 7.6, 222, 7.7, 216, 7.6, 210, 7.5, 207, 7.6, 204, 8.4, 198, 8.4, 194, 8.6, 190, 9.4, 188, 10.2, 186, 13],
  [311, 6.3, 306, 6.4, 302, 10.8, 301, 6.5, 296, 6.2, 290, 6.1, 284, 5.9, 280, 6.0, 277, 8.6, 274, 8.9, 270, 9.5, 266, 10.2, 262, 11.5, 258, 13, 244, 13, 240, 9.6, 236, 8.9, 232, 6.7, 226, 6.6, 220, 6.6, 214, 6.5, 208, 6.4, 204, 6.8, 200, 7.2, 196, 7.6, 192, 8.5, 189, 10.3, 187, 11.8, 186, 13],
  [310, 5.8, 306, 5.9, 302, 6.1, 298, 5.8, 292.5, 7.2, 291.5, 5.6, 286, 5.4, 280, 5.3, 277, 7.2, 272, 7.6, 268, 8.2, 264, 9.4, 260, 11.0, 256, 12.2, 252, 13, 246, 13, 242, 11.0, 240, 8.0, 236, 6.6, 232, 6.0, 226, 5.9, 220, 5.8, 214, 5.7, 208, 5.8, 205, 6.5, 200, 6.9, 195, 7.5, 191, 8.2, 188, 9.6, 186, 10.5],
  [310, 5.2, 304, 5.3, 302, 9.5, 301, 5.2, 296, 5.1, 290, 5.0, 284, 4.9, 280, 5.0, 277, 6.5, 272, 7.0, 268, 7.4, 264, 8.5, 260, 9.8, 256, 11.2, 252, 12.0, 248, 11.5, 244, 10.2, 241, 8.5, 239, 7.0, 236, 5.8, 230, 5.3, 224, 5.2, 218, 5.1, 212, 5.0, 207, 5.1, 205, 5.8, 200, 6.1, 196, 6.6, 192, 7.2, 189, 8.0, 187, 9.1, 186, 9.8],
  [311, 4.7, 304, 4.8, 298, 4.6, 292, 4.6, 286, 4.5, 280, 4.6, 277, 5.9, 272, 6.3, 268, 6.8, 264, 7.6, 260, 8.8, 256, 10.0, 252, 10.6, 248, 10.0, 244, 9.0, 241, 7.5, 239, 6.2, 236, 5.2, 230, 4.8, 224, 4.7, 218, 4.6, 212, 4.6, 207, 4.7, 205, 5.3, 200, 5.6, 196, 5.9, 192, 6.4, 188, 7.3, 186, 8.0],
  [311, 4.2, 304, 4.3, 302, 7.6, 301, 4.3, 296, 4.2, 290, 4.1, 284, 4.1, 280, 4.2, 277, 5.3, 272, 5.7, 268, 6.1, 264, 6.8, 260, 7.9, 256, 9.0, 252, 9.4, 248, 8.8, 244, 8.0, 241, 6.6, 239, 5.6, 236, 4.7, 230, 4.3, 224, 4.2, 218, 4.2, 212, 4.1, 207, 4.2, 205, 4.8, 200, 5.1, 196, 5.4, 192, 5.7, 188, 6.4, 186, 7.0],
  [312, 3.8, 304, 3.9, 298, 3.8, 292, 3.7, 286, 3.7, 280, 3.8, 277, 4.8, 272, 5.1, 268, 5.5, 264, 6.1, 260, 7.1, 256, 8.0, 252, 8.4, 248, 7.8, 244, 7.1, 241, 5.9, 239, 5.0, 236, 4.3, 230, 3.9, 224, 3.8, 218, 3.8, 212, 3.7, 207, 3.8, 205, 4.4, 200, 4.6, 196, 4.9, 192, 5.2, 188, 5.8, 186, 6.2],
  [312, 3.5, 304, 3.5, 298, 3.4, 292, 3.4, 286, 3.3, 280, 3.4, 277, 4.4, 272, 4.6, 268, 5.0, 264, 5.5, 260, 6.4, 256, 7.2, 252, 7.5, 248, 7.0, 244, 6.4, 241, 5.3, 239, 4.5, 236, 3.9, 230, 3.6, 224, 3.5, 218, 3.4, 212, 3.4, 207, 3.4, 205, 4.0, 200, 4.2, 196, 4.4, 192, 4.7, 188, 5.2, 186, 5.6],
  [312, 3.2, 304, 3.2, 298, 3.1, 292, 3.1, 286, 3.0, 280, 3.1, 277, 4.0, 272, 4.2, 268, 4.5, 264, 5.0, 260, 5.8, 256, 6.5, 252, 6.8, 248, 6.3, 244, 5.8, 241, 4.8, 239, 4.1, 236, 3.5, 230, 3.2, 224, 3.1, 218, 3.1, 212, 3.0, 207, 3.1, 205, 3.6, 200, 3.8, 196, 4.0, 192, 4.3, 188, 4.7, 186, 5.0],
  [312, 2.9, 304, 2.9, 298, 2.8, 292, 2.8, 286, 2.7, 280, 2.8, 277, 3.6, 272, 3.8, 268, 4.1, 264, 4.5, 260, 5.2, 256, 5.8, 252, 6.1, 248, 5.7, 244, 5.2, 241, 4.3, 239, 3.7, 236, 3.2, 230, 2.9, 224, 2.8, 218, 2.8, 212, 2.7, 207, 2.8, 205, 3.3, 200, 3.5, 196, 3.6, 192, 3.9, 188, 4.2, 186, 4.5],
  [312, 2.6, 304, 2.6, 298, 2.5, 292, 2.5, 286, 2.4, 280, 2.5, 277, 3.2, 272, 3.4, 268, 3.7, 264, 4.0, 260, 4.7, 256, 5.2, 252, 5.5, 248, 5.1, 244, 4.7, 241, 3.9, 239, 3.3, 236, 2.9, 230, 2.6, 224, 2.5, 218, 2.5, 212, 2.4, 207, 2.5, 205, 3.0, 200, 3.1, 196, 3.3, 192, 3.5, 188, 3.8, 186, 4.0],
  [312, 2.3, 304, 2.3, 298, 2.2, 292, 2.2, 286, 2.2, 280, 2.2, 277, 2.9, 272, 3.1, 268, 3.3, 264, 3.6, 260, 4.2, 256, 4.7, 252, 4.9, 248, 4.6, 244, 4.2, 241, 3.5, 239, 3.0, 236, 2.6, 230, 2.3, 224, 2.2, 218, 2.2, 212, 2.2, 207, 2.2, 205, 2.7, 200, 2.8, 196, 2.9, 192, 3.1, 188, 3.4, 186, 3.6],
  [312, 2.0, 304, 2.0, 298, 1.95, 292, 1.9, 286, 1.9, 280, 1.95, 277, 2.5, 272, 2.7, 268, 2.9, 264, 3.2, 260, 3.7, 256, 4.1, 252, 4.3, 248, 4.0, 244, 3.7, 241, 3.1, 239, 2.7, 236, 2.3, 230, 2.0, 224, 1.95, 218, 1.9, 212, 1.9, 207, 1.9, 205, 2.4, 200, 2.5, 196, 2.6, 192, 2.8, 188, 3.0, 186, 3.2],
  [312, 1.7, 306, 1.6, 298, 1.6, 292, 1.6, 285, 1.6, 282, 1.5, 276, 1.5, 270, 1.6, 266, 1.8, 262, 2.2, 258, 2.6, 254, 2.9, 250, 2.8, 246, 2.6, 242, 2.1, 240, 1.8, 236, 1.6, 232, 1.4, 226, 1.2, 218, 1.2, 212, 1.2, 207, 1.3, 206, 1.9, 200, 2.0, 194, 2.1, 188, 2.3, 186, 2.5],
  [308, 3.0, 304, 3.2, 302.8, 10.8, 301.8, 6.0, 300.5, 3.4, 296, 3.3, 290, 3.2, 284, 3.2, 279.5, 3.5, 277.3, 12.8, 276.5, 4.0, 274, 4.5, 270, 9.8, 268, 5.0, 264, 5.3, 262, 9.3, 260.5, 6.0, 258, 7.5, 254, 13, 250, 13, 246, 12.0, 244, 9.6, 242, 10.5, 240, 6.2, 238, 4.6, 236.5, 9.5, 235, 4.8, 230, 4.6, 224, 4.5, 218, 4.3, 212, 4.2, 207, 4.3, 205, 7.8, 202, 8.0, 198, 8.6, 196, 8.6, 193, 10.0, 190, 11.6, 188, 12.3, 187, 13],
  [306, 4.0, 300, 4.2, 296, 4.4, 293, 4.5, 292.5, 7.0, 291, 4.6, 286, 4.7, 282, 4.9, 278, 5.5, 276.8, 12.5, 275, 6.0, 272, 7.8, 269, 9.0, 266, 9.8, 263, 10.3, 260, 11.5, 257, 13, 246, 13, 243, 11.2, 241, 9.5, 239, 7.5, 237, 6.0, 232, 5.5, 226, 5.4, 220, 5.5, 214, 5.3, 209, 5.2, 206, 5.6, 204, 6.8, 198, 7.1, 194, 7.4, 190, 7.9, 188, 9.0, 187, 9.6, 186, 10.4],
  [311, 2.45, 304, 2.45, 298, 2.35, 292, 2.35, 286, 2.3, 280, 2.35, 277, 3.0, 272, 3.3, 268, 3.5, 264, 3.8, 260, 4.5, 256, 5.0, 252, 5.2, 248, 4.8, 244, 4.4, 241, 3.7, 239, 3.1, 236, 2.7, 230, 2.45, 224, 2.35, 218, 2.35, 212, 2.3, 207, 2.35, 205, 2.85, 200, 2.95, 196, 3.1, 192, 3.3, 188, 3.6, 186, 3.8],
  [311, 2.75, 304, 2.75, 298, 2.65, 292, 2.65, 286, 2.55, 280, 2.65, 277, 3.4, 272, 3.6, 268, 3.9, 264, 4.3, 260, 5.0, 256, 5.5, 252, 5.8, 248, 5.4, 244, 5.0, 241, 4.1, 239, 3.5, 236, 3.05, 230, 2.75, 224, 2.65, 218, 2.65, 212, 2.55, 207, 2.65, 205, 3.15, 200, 3.3, 196, 3.45, 192, 3.7, 188, 4.0, 186, 4.3],
  [311, 3.05, 304, 3.05, 298, 2.95, 292, 2.95, 286, 2.85, 280, 2.95, 277, 3.8, 272, 4.0, 268, 4.3, 264, 4.8, 260, 5.5, 256, 6.2, 252, 6.5, 248, 6.0, 244, 5.5, 241, 4.5, 239, 3.9, 236, 3.35, 230, 3.05, 224, 2.95, 218, 2.95, 212, 2.85, 207, 2.95, 205, 3.45, 200, 3.65, 196, 3.8, 192, 4.1, 188, 4.45, 186, 4.8],
  [300, 3.6, 290, 3.6, 280, 3.7, 274, 4.2, 268, 5.5, 264, 7.0, 262, 8.4, 259, 10.5, 257, 11.8, 255, 13, 249, 13, 247, 11.5, 245, 9.8, 243, 8.2, 241, 6.4, 239, 5.2, 236, 4.0, 230, 3.6, 220, 3.5, 210, 3.4, 205, 3.9, 198, 4.1, 192, 4.5, 188, 5.0, 186, 5.4],
  [296, 2.8, 286, 2.8, 278, 3.0, 272, 3.6, 266, 4.8, 262, 6.5, 259, 8.3, 256, 9.6, 253, 10.8, 250, 10.2, 247, 9.0, 244, 7.6, 242, 6.0, 240, 4.6, 237, 3.5, 230, 3.0, 220, 2.9, 210, 2.85, 205, 3.3, 198, 3.5, 192, 3.8, 188, 4.3, 186, 4.6],
  [304, 4.5, 296, 4.6, 288, 4.7, 280, 4.9, 276, 5.6, 272, 6.2, 268, 7.0, 264, 8.0, 261, 9.4, 258, 11.5, 255, 12.3, 252, 13, 248, 13, 246, 12.0, 244, 10.5, 242, 8.8, 240, 7.2, 238, 5.6, 236, 4.9, 230, 4.6, 220, 4.5, 210, 4.4, 205, 5.0, 198, 5.4, 192, 5.9, 188, 6.6, 186, 7.2],
  [260, 2.6, 254, 3.0, 248, 3.2, 242, 2.6, 238, 2.2, 236.4, 9.5, 235.6, 2.2, 230, 1.7, 224, 1.5, 216, 1.45, 210, 1.5, 206, 1.6, 205, 2.2, 198, 2.3, 192, 2.5, 188, 2.8, 186, 3.0],
];
const D_ORANGE = [315.3, 3.27, 313.9, 3.27, 313.6, 2.41, 313.0, 2.9, 311.9, 2.41, 310.8, 2.69, 308.5, 2.76, 306.2, 2.97, 303.4, 3.52, 301.7, 3.38, 299.5, 3.1, 295.0, 3.1, 292.1, 3.24, 290.4, 2.9, 283.7, 2.87, 278.0, 2.83, 276.9, 3.1, 274.6, 3.14, 272.4, 3.31, 270.1, 3.31, 265.6, 3.59, 261.1, 3.59, 258.8, 4.48, 256.6, 4.55, 254.3, 4.69, 252.6, 5.24, 250.9, 4.97, 248.7, 4.83, 246.4, 4.69, 244.1, 4.14, 243.0, 3.59, 241.9, 3.31, 238.5, 3.24, 236.2, 3.24, 232.9, 2.76, 227.2, 2.55, 221.6, 2.59, 215.9, 2.69, 210.3, 2.69, 208.0, 2.76, 205.8, 3.24, 204.6, 3.24];
const D_ORANGERED = [272.4, 3.03, 271.8, 4.14, 271.0, 3.59, 270.1, 3.03, 268.4, 4.07, 265.6, 4.21, 263.3, 4.69, 261.6, 5.45, 261.1, 5.66, 259.9, 6.76, 259.4, 8.21, 258.8, 8.14, 258.3, 8.07, 256.6, 8.28, 256.0, 8.55, 255.4, 7.86, 254.3, 7.1, 252.6, 7.03, 251.5, 6.48, 249.8, 5.52, 247.5, 5.31, 246.4, 5.1, 244.7, 3.31, 242.4, 3.1, 239.6, 3.1, 236.2, 3.24, 235.1, 2.9, 233.4, 2.07, 231.7, 1.79, 227.2, 1.82, 222.7, 1.77, 221.6, 1.59, 220.4, 1.79, 219.3, 1.93, 218.2, 1.66, 217.1, 2.34, 216.5, 2.07];
const D_GREEN = [270.3, 1.54, 269.9, 2.21, 269.0, 3.52, 267.9, 3.17, 264.5, 3.14, 262.2, 3.45, 261.1, 4.0, 258.8, 4.14, 256.6, 4.41, 253.7, 5.24, 253.2, 5.31, 252.1, 4.41, 250.9, 5.1, 249.8, 5.31, 248.7, 4.97, 246.4, 4.69, 244.7, 4.41, 243.6, 4.48, 243.0, 3.86];
const D_YELLOW = [269.2, 1.66, 269.0, 4.34, 268.4, 3.03, 265.6, 3.1, 262.2, 3.14, 261.1, 3.31, 258.8, 3.1, 255.4, 3.31, 252.1, 3.45, 250.9, 3.45, 249.2, 4.0, 247.5, 3.79, 245.8, 4.14, 244.7, 4.55, 243.6, 4.48, 242.4, 3.45, 241.3, 3.38, 238.5, 3.41, 232.9, 3.45, 229.5, 3.48, 227.2, 3.38, 221.6, 3.31, 215.9, 3.24, 210.3, 3.24, 204.6, 3.24, 199.0, 3.31, 196.2, 3.45, 193.3, 4.0, 191.1, 4.21, 188.8, 4.41, 186.6, 4.69, 186.0, 4.0, 185.4, 5.66, 184.9, 3.31, 184.3, 4.0, 183.2, 3.59];
const D_MAGENTA = [278.6, 4.69, 276.0, 4.69, 275.8, 2.41, 275.2, 3.45, 274.1, 3.3, 273.5, 2.48, 272.4, 2.9, 270.1, 2.83, 267.9, 2.9, 265.6, 2.97, 262.8, 4.14, 261.6, 3.31, 258.8, 3.31, 254.3, 3.31, 252.1, 3.03];
const D_INDIGO = [274.9, 2.14, 273.5, 2.21, 272.9, 3.45, 272.4, 2.76, 271.0, 3.45, 270.1, 3.17, 267.9, 3.59, 266.2, 3.31, 265.6, 2.9, 262.2, 2.83, 261.1, 2.97, 260.0, 2.9, 259.4, 4.55, 259.1, 3.0];
const D_LIGHTBLUE = [273.6, 4.85, 273.3, 3.6, 272.8, 3.4, 266, 3.1, 260, 3.0, 254.8, 3.2, 253.6, 2.6];

const FONT = 'Liberation Sans, Arial, Helvetica, sans-serif';

type Series = { pts: number[]; color: string };
type PanelSpec = {
  ages: [number, number];
  x0: number; x1: number;
  yZero: number; yTop: number; yMax: number; yStep: number;
  clipTop: number; ts: number;
  grey: number[][];
  series: Series[];
};

const PANELS: PanelSpec[] = [
  {
    ages: [408.8, 170], x0: 49, x1: 589, yZero: 310, yTop: 18, yMax: 10, yStep: 2, clipTop: 7, ts: 321,
    grey: A_GREY,
    series: [
      { pts: A_SALMON, color: '#F8766D' },
      { pts: A_DKGREEN, color: '#0B4F1E' },
      { pts: A_BLUE, color: '#0000FF' },
      { pts: A_MAROON, color: '#7A0000' },
      { pts: A_RED, color: '#DD3222' },
      { pts: A_ORANGE, color: '#FF8C00' },
    ],
  },
  {
    ages: [356, 174.3], x0: 651, x1: 1184, yZero: 310, yTop: 18, yMax: 30, yStep: 5, clipTop: 7, ts: 321,
    grey: B_GREY,
    series: [
      { pts: B_BLUE, color: '#0E8CCB' },
      { pts: B_GREEN, color: '#00EE00' },
      { pts: B_DKGREEN, color: '#0A3F18' },
    ],
  },
  {
    ages: [263.6, 172.6], x0: 67, x1: 600, yZero: 771, yTop: 480, yMax: 8, yStep: 2, clipTop: 468, ts: 783,
    grey: C_GREY,
    series: [
      { pts: C_YELLOW, color: '#FFD700' },
      { pts: C_MAROON, color: '#7A0000' },
      { pts: C_RED, color: '#FF0000' },
    ],
  },
  {
    ages: [336, 175.4], x0: 651, x1: 1184, yZero: 773, yTop: 483, yMax: 12, yStep: 2, clipTop: 472, ts: 786,
    grey: D_GREY,
    series: [
      { pts: D_LIGHTBLUE, color: '#ADD8E6' },
      { pts: D_ORANGE, color: '#FF8C00' },
      { pts: D_ORANGERED, color: '#F4511E' },
      { pts: D_MAGENTA, color: '#D0148C' },
      { pts: D_INDIGO, color: '#3A2D9C' },
      { pts: D_GREEN, color: '#00A550' },
      { pts: D_YELLOW, color: '#FFF200' },
    ],
  },
];

const pairs = (a: number[]) => d3.range(0, a.length, 2).map((i) => [a[i], a[i + 1]] as [number, number]);

function Panel({ p, idx }: { p: PanelSpec; idx: number }) {
  const x = d3.scaleLinear().domain(p.ages).range([p.x0, p.x1]);
  const y = d3.scaleLinear().domain([0, p.yMax]).range([p.yZero, p.yTop]);
  const greyLine = d3.line<[number, number]>().x((d) => x(d[0])).y((d) => y(d[1])).curve(d3.curveStepAfter);
  const colLine = d3.line<[number, number]>().x((d) => x(d[0])).y((d) => y(d[1]));
  const clipId = `clip${idx}`;

  const stageY = p.ts, periodY = p.ts + 56, axisY = p.ts + 84;
  const clampX = (v: number) => Math.max(p.x0, Math.min(p.x1, v));

  const stages = STAGE_NAMES.map((name, i) => {
    const a = clampX(x(STAGE_BASES[i])), b = clampX(x(STAGE_TOPS[i]));
    return { name, a, b, color: STAGE_COLORS[i] };
  }).filter((s) => s.b - s.a > 0.3);

  const periods = PERIOD_NAMES.map((name, i) => {
    const full = x(PERIOD_TOPS[i]) - x(PERIOD_BASES[i]);
    const a = clampX(x(PERIOD_BASES[i])), b = clampX(x(PERIOD_TOPS[i]));
    return { name, a, b, frac: (b - a) / full, color: PERIOD_COLORS[i] };
  }).filter((s) => s.b - s.a > 0.3);

  const [older, younger] = p.ages;
  const minorTicks = d3.range(Math.ceil(younger), Math.floor(older) + 1);
  const majorTicks = minorTicks.filter((t) => t % 10 === 0);
  const yTicks = d3.range(0, p.yMax + 0.001, p.yStep);
  const yMid = (y(0) + y(p.yMax)) / 2;

  return (
    <g>
      <defs>
        <clipPath id={clipId}>
          <rect x={p.x0} y={p.clipTop} width={p.x1 - p.x0} height={p.yZero + 10 - p.clipTop} />
        </clipPath>
      </defs>
      <g clipPath={`url(#${clipId})`} fill="none">
        {p.grey.map((g, i) => (
          <path key={i} d={greyLine(pairs(g)) ?? ''} stroke="#D3D3D3" strokeWidth={1.1} />
        ))}
        {p.series.map((s, i) => (
          <path key={i} d={colLine(pairs(s.pts)) ?? ''} stroke={s.color} strokeWidth={2.2} strokeLinejoin="round" />
        ))}
      </g>

      {/* y axis */}
      <line x1={p.x0} x2={p.x0} y1={y(0)} y2={y(p.yMax)} stroke="#333" />
      {yTicks.map((t) => (
        <g key={t}>
          <line x1={p.x0 - 6} x2={p.x0} y1={y(t)} y2={y(t)} stroke="#333" />
          <text transform={`translate(${p.x0 - 16},${y(t)}) rotate(-90)`} textAnchor="middle" dy="0.35em"
            fontSize={8} fill="#333" fontFamily={FONT}>{t}</text>
        </g>
      ))}
      <text transform={`translate(${p.x0 - 38},${yMid}) rotate(-90)`} textAnchor="middle" dy="0.35em"
        fontSize={8} fill="#333" fontFamily={FONT}>Relative rate</text>

      {/* stages */}
      {stages.map((s) => {
        const w = s.b - s.a;
        const fs = Math.min(6.5, w * 0.85);
        return (
          <g key={s.name}>
            <rect x={s.a} y={stageY} width={w} height={56} fill={s.color} stroke="#111" strokeWidth={0.8} />
            {w > 2.5 && (
              <text transform={`translate(${(s.a + s.b) / 2},${stageY + 28}) rotate(-90)`} textAnchor="middle"
                dy="0.35em" fontSize={fs} fill="#333" fontFamily={FONT}>{s.name}</text>
            )}
          </g>
        );
      })}
      {/* periods */}
      {periods.map((s) => {
        const w = s.b - s.a;
        return (
          <g key={s.name}>
            <rect x={s.a} y={periodY} width={w} height={28} fill={s.color} stroke="#111" strokeWidth={0.8} />
            {s.frac > 0.4 && (
              <text x={(s.a + s.b) / 2} y={periodY + 14} textAnchor="middle" dy="0.35em" fontSize={8.5}
                fill="#222" fontFamily={FONT}>{s.name}</text>
            )}
          </g>
        );
      })}

      {/* x axis */}
      <path d={minorTicks.map((t) => `M${x(t)},${axisY}v11`).join('')} stroke="#111" strokeWidth={0.8} />
      {majorTicks.map((t) => (
        <text key={t} transform={`translate(${x(t)},${axisY + 19}) rotate(-90)`} textAnchor="end" dy="0.35em"
          fontSize={8} fill="#333" fontFamily={FONT}>{t}</text>
      ))}
    </g>
  );
}

export default function App() {
  return (
    <svg width={1184} height={909} style={{ position: 'absolute', left: 0, top: 0, background: '#fff' }}>
      <rect width={1184} height={909} fill="#fff" />
      {PANELS.map((p, i) => <Panel key={i} p={p} idx={i} />)}
    </svg>
  );
}
